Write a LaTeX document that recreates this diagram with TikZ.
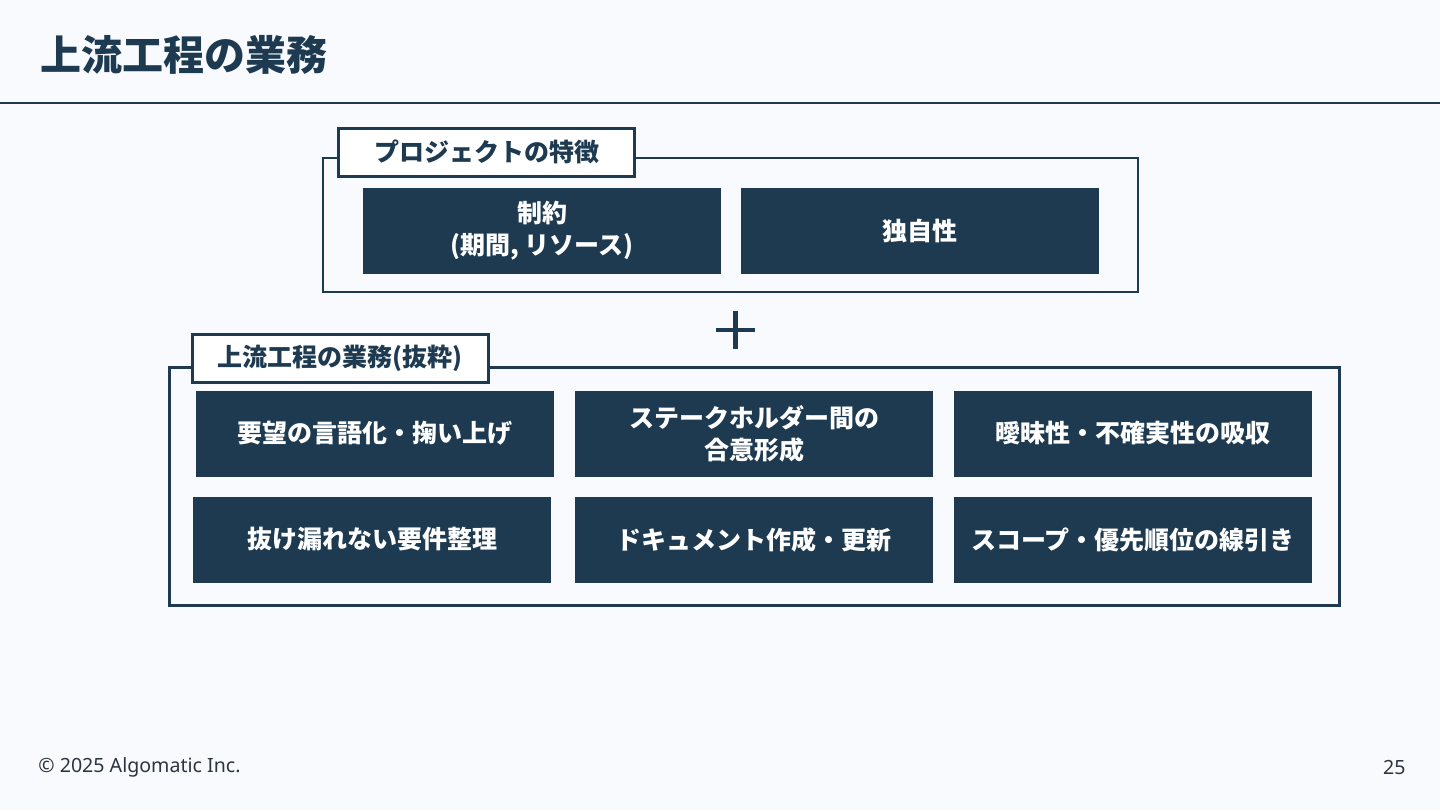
\documentclass[tikz,border=0pt]{standalone}
\usepackage{fontspec}
\setmainfont{Noto Sans CJK JP}
\newfontfamily\latinfont{Noto Sans}
\usetikzlibrary{positioning}
\definecolor{navy}{HTML}{1D3A51}
\definecolor{pagebg}{HTML}{F8FAFE}
\definecolor{footgray}{HTML}{2B3440}

\begin{document}
\begin{tikzpicture}[x=0.5pt, y=-0.5pt,
    task/.style={fill=navy, text=white, minimum width=179pt, minimum height=43pt,
        inner sep=0pt, align=center, font=\fontsize{12.5}{16}\selectfont\bfseries},
    tag/.style={draw=navy, line width=1.5pt, fill=white, text=navy, minimum width=148pt,
        minimum height=24pt, inner sep=0pt, font=\fontsize{12.5}{15}\selectfont\bfseries},
    foot/.style={text=footgray, inner sep=0pt, font=\latinfont\fontsize{9.8}{11}\selectfont}]
    \fill[pagebg] (0,0) rectangle (1440,810);
    \useasboundingbox (0,0) rectangle (1440,810);

    \node[anchor=west, inner sep=0pt, text=navy, font=\fontsize{20.5}{24}\selectfont\bfseries]
        (title) at (40,55) {上流工程の業務};
    \draw[navy, line width=1pt] (0,103) -- (1440,103);

    \draw[navy, line width=0.9pt] (323,158) rectangle (1138,292);
    \node[tag] (features) at (486.5,152) {プロジェクトの特徴};
    \node[task] (limits) at (542,231) {制約\\(期間, リソース)};
    \node[task] (unique) at (920,231) {独自性};

    \draw[navy, line width=2.2pt] (716,330) -- (755,330) (735.5,311) -- (735.5,349);

    \draw[navy, line width=1.5pt] (169,367) rectangle (1339,605);
    \node[tag] (duties) at (340,358) {上流工程の業務(抜粋)};
    \node[task] (needs) at (375,433.5) {要望の言語化・掬い上げ};
    \node[task] (consensus) at (754,433.5) {ステークホルダー間の\\合意形成};
    \node[task] (ambiguity) at (1133,433.5) {曖昧性・不確実性の吸収};
    \node[task] (reqs) at (372,539.5) {抜け漏れない要件整理};
    \node[task] (docs) at (754,539.5) {ドキュメント作成・更新};
    \node[task] (scope) at (1133,539.5) {スコープ・優先順位の線引き};

    \node[foot, anchor=west] (copy) at (38,767) {© 2025 Algomatic Inc.};
    \node[foot, anchor=east] (page) at (1406,767) {25};
\end{tikzpicture}
\end{document}
